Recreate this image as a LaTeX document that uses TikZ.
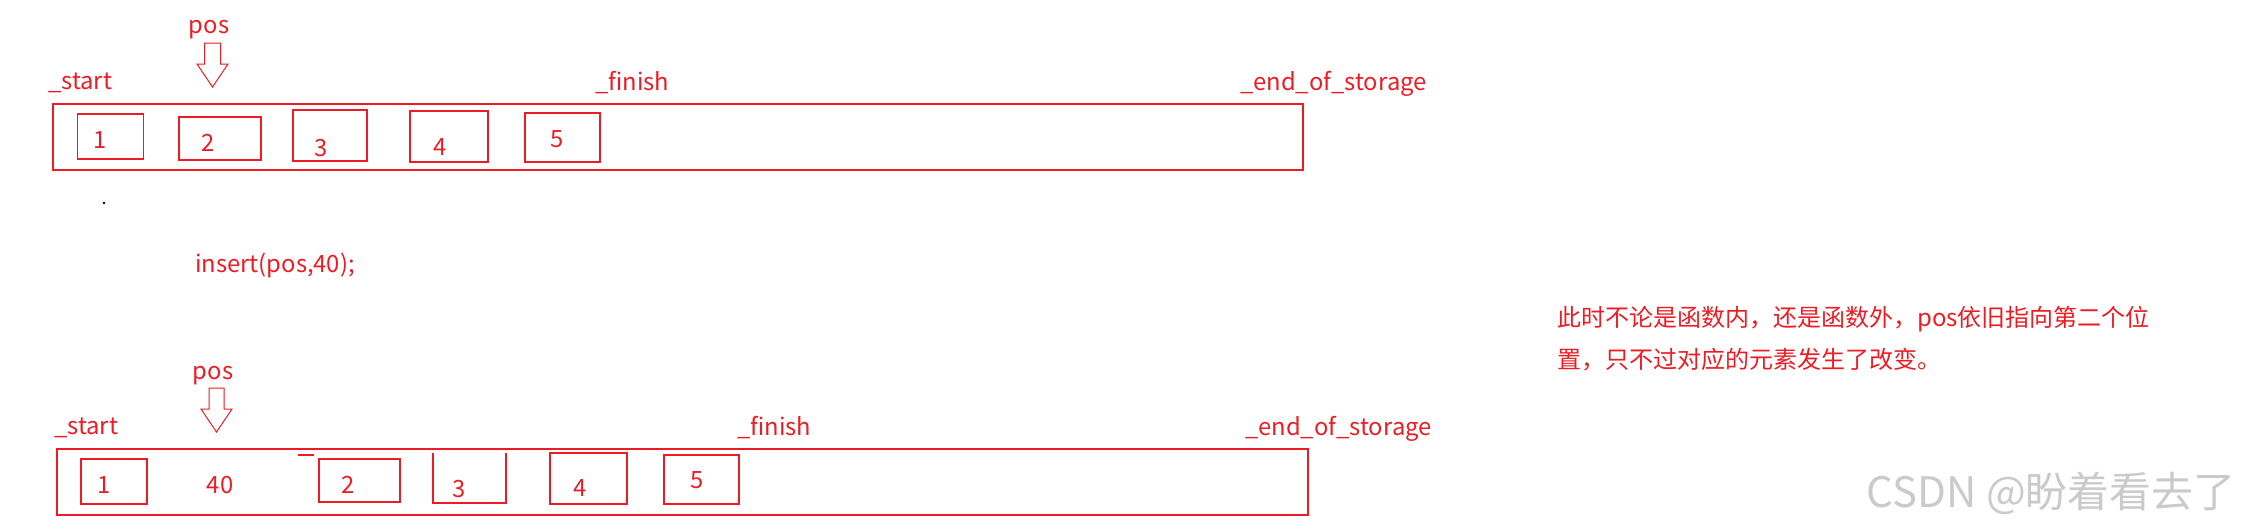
\documentclass[tikz,border=0pt]{standalone}
\usepackage{fontspec}
\setmainfont{Noto Sans CJK SC}
\usetikzlibrary{positioning}
\definecolor{paintred}{HTML}{ED1C24}
\definecolor{markgray}{HTML}{CACACA}

\begin{document}
\begin{tikzpicture}[
  x=1pt, y=-1pt,
  lbl/.style={text=paintred, font=\fontsize{23.8}{28}\selectfont, inner sep=0pt},
  ptr/.style={lbl, anchor=base west},
  num/.style={lbl},
  cell/.style={draw=paintred, line width=1.2pt, inner sep=0pt},
  hollow/.style={draw=paintred, line width=1pt, line join=miter},
  note/.style={lbl, font=\fontsize{24}{28}\selectfont, anchor=base west}
]
  \useasboundingbox (0,0) rectangle (2244,530);

  % before insert
  \node[cell, minimum width=1250pt, minimum height=66pt] (vecA) at (678,137) {};
  \node[ptr] (startA) at (48,89) {\_start};
  \node[ptr] (finishA) at (595,90) {\_finish};
  \node[ptr] (eosA) at (1240,90) {\_end\_of\_storage};
  \node[lbl, anchor=base] (posA) at (209,33) {pos};
  \coordinate (tipA) at (212.5,87);
  \draw[hollow] (tipA) -- ++(-15.5,-23) -- ++(7.5,0) -- ++(0,-21) -- ++(16,0)
    -- ++(0,21) -- ++(7.5,0) -- cycle;

  \node[cell, minimum width=66pt, minimum height=45pt] (a1) at (110.5,136.5) {};
  \node[cell, minimum width=82pt, minimum height=43pt] (a2) at (220,138.5) {};
  \node[cell, minimum width=74pt, minimum height=51pt] (a3) at (330,135.5) {};
  \node[cell, minimum width=78pt, minimum height=51pt] (a4) at (449,136.5) {};
  \node[cell, minimum width=75pt, minimum height=49pt] (a5) at (562.5,137.5) {};
  \node[num] at (100,140) {1};
  \node[num] at (208,143) {2};
  \node[num] at (321,148) {3};
  \node[num] at (440,147) {4};
  \node[num] at (557,139) {5};

  \fill (104,203) circle (1.3pt);
  \node[ptr] (call) at (195,272) {insert(pos,40);};

  % after insert
  \node[cell, minimum width=1251pt, minimum height=66pt] (vecB) at (682.5,482) {};
  \node[ptr] (startB) at (54,434) {\_start};
  \node[ptr] (finishB) at (737,435) {\_finish};
  \node[ptr] (eosB) at (1245,435) {\_end\_of\_storage};
  \node[lbl, anchor=base] (posB) at (213,379) {pos};
  \coordinate (tipB) at (216.5,432);
  \draw[hollow] (tipB) -- ++(-15.5,-23) -- ++(8,0) -- ++(0,-21) -- ++(15,0)
    -- ++(0,21) -- ++(8,0) -- cycle;

  \node[cell, minimum width=66pt, minimum height=45pt] (b1) at (114,481.5) {};
  \node[cell, minimum width=81pt, minimum height=43pt] (b2) at (359.5,480.5) {};
  \draw[cell] (433,453) -- (433,503) -- (506,503) -- (506,453);
  \node[cell, minimum width=77pt, minimum height=51pt] (b4) at (588.5,478.5) {};
  \node[cell, minimum width=75pt, minimum height=49pt] (b5) at (701.5,479.5) {};
  \draw[cell] (298,455) -- (314,455);
  \node[num] at (104,485) {1};
  \node[num] at (220,485) {40};
  \node[num] at (348,485) {2};
  \node[num] at (459,489) {3};
  \node[num] at (580,488) {4};
  \node[num] at (697,480) {5};

  % remark
  \node[note] (note1) at (1557,326) {此时不论是函数内，还是函数外，pos依旧指向第二个位};
  \node[note] (note2) at (1557,368) {置，只不过对应的元素发生了改变。};

  \node[text=markgray, font=\fontsize{42}{46}\selectfont, anchor=east, inner sep=0pt]
    (mark) at (2236,493) {CSDN @盼着看去了};
\end{tikzpicture}
\end{document}
